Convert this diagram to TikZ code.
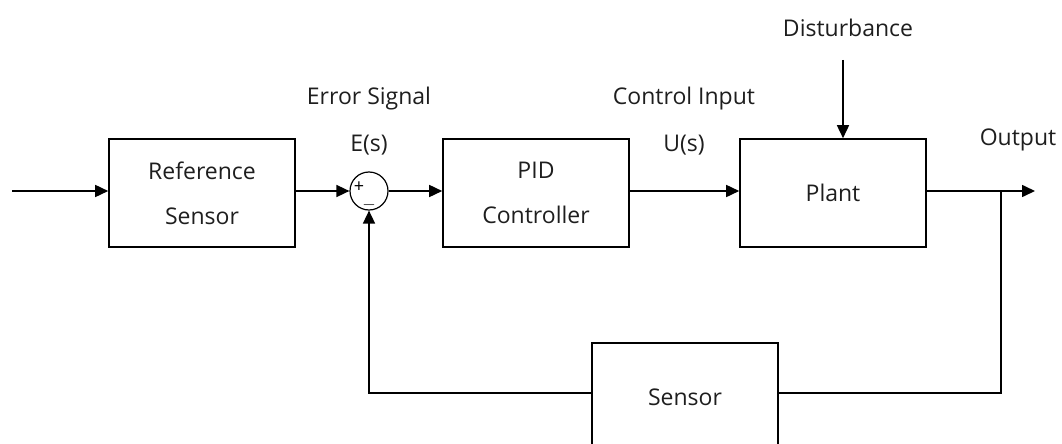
\documentclass[tikz,border=0pt]{standalone}
\usepackage{fontspec}
\setmainfont{Open Sans}
\usetikzlibrary{arrows.meta,positioning,calc}
\definecolor{TextGray}{RGB}{30,30,30}

\tikzset{
  block/.style={draw,line width=1.6pt,minimum width=186pt,minimum height=108pt,
    align=center,text=TextGray,font=\fontsize{23}{45}\selectfont},
  lbl/.style={align=center,text=TextGray,font=\fontsize{23}{47}\selectfont},
  sumjunc/.style={draw,circle,line width=1.2pt,minimum size=38pt,inner sep=0pt},
  sign/.style={inner sep=0pt,text height=9pt,text depth=0pt,font=\fontsize{18}{18}\selectfont},
  sig/.style={line width=1.6pt,-{Triangle[length=13pt,width=12pt]}},
  wire/.style={line width=1.6pt}
}

\begin{document}
\begin{tikzpicture}[x=1pt,y=-1pt]
  \useasboundingbox (0,0) rectangle (1062,444);
  \clip (0,0) rectangle (1062,444);
  % blocks
  \node[block] (ref) at (202,193) {Reference\\Sensor};
  \node[sumjunc] (sum) at (369,191) {};
  \node[sign] (plus) at (359,188) {+};
  \node[sign] (minus) at (369,205) {$-$};
  \node[block] (pid) at (536,193) {PID\\Controller};
  \node[block] (plant) at (833,193) {Plant};
  \node[block] (sensor) at (685,397) {Sensor};
  % labels
  \node[lbl] (errlbl) at (369,121) {Error Signal\\E(s)};
  \node[lbl] (ctrllbl) at (684,121) {Control Input\\U(s)};
  \node[lbl] (distlbl) at (848,28) {Disturbance};
  \node[lbl] (outlbl) at (1018,140) {Output};
  % free ends
  \coordinate (in) at (12,191);
  \coordinate (out) at (1035,191);
  \coordinate (branch) at (1001,191);
  \coordinate (dist) at (843,60);
  % signals
  \draw[sig] (in) -- (in -| ref.west);
  \draw[sig] (in -| ref.east) -- (sum);
  \draw[sig] (sum) -- (in -| pid.west);
  \draw[sig] (in -| pid.east) -- (in -| plant.west);
  \draw[sig] (in -| plant.east) -- (out);
  \draw[sig] (dist) -- (dist |- plant.north);
  \draw[wire] (branch) |- ([yshift=4pt]sensor.east);
  \draw[sig] ([yshift=4pt]sensor.west) -| (sum.south);
\end{tikzpicture}
\end{document}
